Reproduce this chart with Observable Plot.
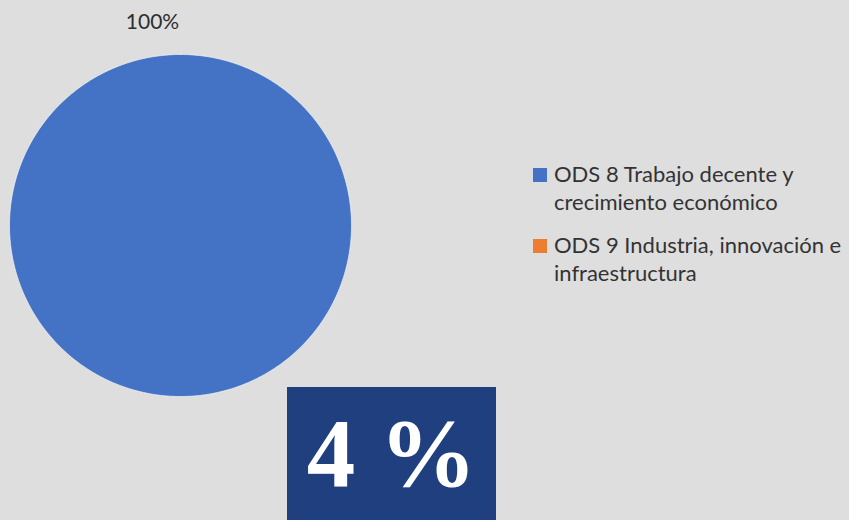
<!DOCTYPE html>
<html>
<head>
<meta charset="utf-8">
<script src="https://cdn.jsdelivr.net/npm/d3@7"></script>
<script src="https://cdn.jsdelivr.net/npm/@observablehq/plot@0.6"></script>
<style>
  html, body { margin: 0; padding: 0; background: #dedede; }
  #wrap { position: relative; width: 849px; height: 520px; overflow: hidden;
          background: #dedede; }
  #chart { position: absolute; left: 0; top: 0; }
  .legend { position: absolute; left: 533px; top: 160px; width: 316px;
            font-family: Lato, "Open Sans", sans-serif; font-size: 22px;
            color: #333333; }
  .item { position: relative; padding-left: 21px; line-height: 28px; margin-bottom: 15px; }
  .sw { position: absolute; left: 0; top: 8px; width: 14px; height: 14px; }
  .box { position: absolute; left: 287px; top: 387px; width: 209px; height: 140px;
         background: #203f7e; color: #ffffff; text-align: center;
         font-family: "Liberation Serif", "DejaVu Serif", serif; font-weight: bold;
         font-size: 97px; line-height: 133px; }
</style>
</head>
<body>
<div id="wrap">
  <div id="chart"></div>
  <div class="legend" id="legend"></div>
  <div class="box" id="box"></div>
</div>
<script>
const categories = ["ODS 8 Trabajo decente y crecimiento económico", "ODS 9 Industria, innovación e infraestructura"];
const values = [100, 0];
const colors = ["#4472C4", "#ED7D31"];
const highlight = "4 %";

const total = d3.sum(values);
const rows = categories.map((c, i) => ({category: c, value: values[i]}));
const arcs = d3.pie().sort(null).value(d => d.value)(rows);

// polygon outlines of each slice in unit coordinates (angle 0 at top, clockwise)
const pts = [];
arcs.forEach(a => {
  if (a.endAngle - a.startAngle <= 0) return;
  const full = a.data.value === total;
  const n = Math.max(2, Math.ceil((a.endAngle - a.startAngle) / (2 * Math.PI) * 360));
  if (!full) pts.push({category: a.data.category, x: 0, y: 0});
  for (let k = 0; k <= n; k++) {
    const t = a.startAngle + (a.endAngle - a.startAngle) * k / n;
    pts.push({category: a.data.category, x: Math.sin(t), y: Math.cos(t)});
  }
});

const labelRows = arcs.filter(a => a.data.value > 0).map(a => ({
  text: Math.round(a.data.value / total * 100) + "%",
  x: Math.sin(a.startAngle) * 1.19,
  y: Math.cos(a.startAngle) * 1.19
}));

const plot = Plot.plot({
  width: 849, height: 520,
  marginLeft: 9, marginRight: 498, marginTop: 54, marginBottom: 124,
  x: {domain: [-1, 1], axis: null},
  y: {domain: [-1, 1], axis: null},
  color: {domain: categories, range: colors},
  style: {background: "transparent", overflow: "visible"},
  marks: [
    Plot.line(pts, {x: "x", y: "y", z: "category", fill: "category",
      stroke: "#ffffff", strokeOpacity: 0.6, strokeWidth: 1, curve: "linear"}),
    Plot.text(labelRows, {x: "x", y: "y", text: "text", dx: -28,
      fontSize: 21, fill: "#2e2e2e", fontFamily: "Lato, sans-serif"})
  ]
});
document.getElementById("chart").appendChild(plot);

const legend = document.getElementById("legend");
categories.forEach((c, i) => {
  const it = document.createElement("div");
  it.className = "item";
  const sw = document.createElement("span");
  sw.className = "sw";
  sw.style.background = colors[i];
  it.appendChild(sw);
  it.appendChild(document.createTextNode(c));
  legend.appendChild(it);
});
document.getElementById("box").textContent = highlight;
</script>
</body>
</html>
